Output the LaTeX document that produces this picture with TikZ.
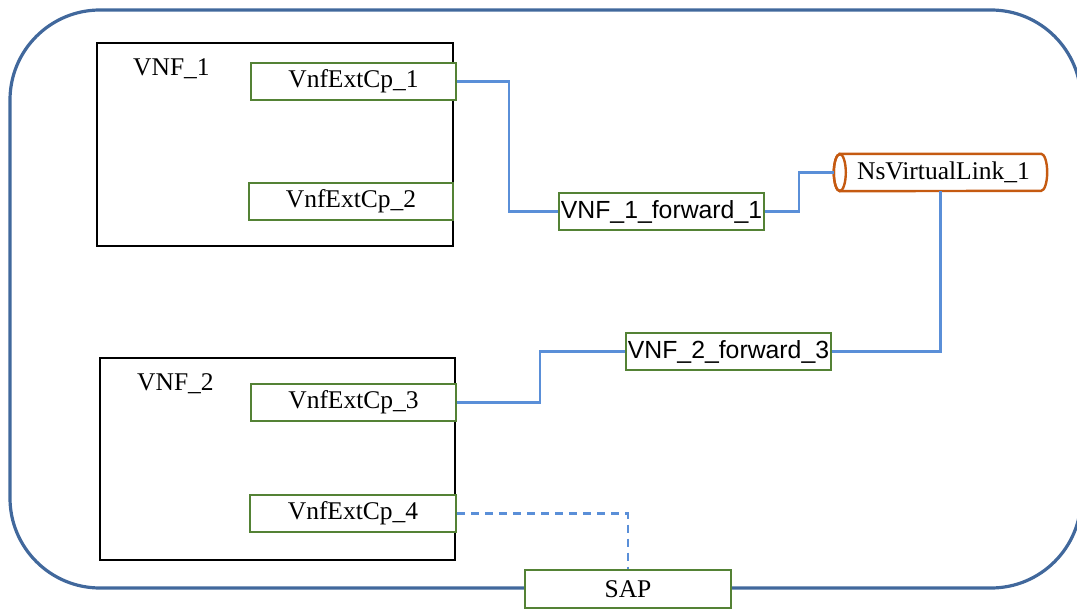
\documentclass[tikz,border=0pt]{standalone}
\usepackage{fontspec}
\setmainfont{Liberation Serif}
\newfontfamily\arialf{Liberation Sans}
\definecolor{outerblue}{HTML}{41689C}
\definecolor{linkblue}{HTML}{5A8FD8}
\definecolor{cpgreen}{HTML}{548235}
\definecolor{vlorange}{HTML}{C55A11}
\begin{document}
\begin{tikzpicture}[x=1pt,y=-1pt,
  every node/.style={font=\fontsize{25.5}{30}\selectfont, inner sep=0pt},
  vnfbox/.style={draw=black, line width=2.4pt, fill=white},
  cpbox/.style={draw=cpgreen, line width=2.4pt, fill=white, minimum width=205pt, minimum height=37pt},
  fwdbox/.style={cpbox, font=\arialf\fontsize{24.8}{30}\selectfont},
  link/.style={draw=linkblue, line width=2.2pt},
  vlink/.style={draw=vlorange, line width=2.4pt, fill=white}]
\useasboundingbox (0,0) rectangle (1077,610);
\clip (0,0) rectangle (1077,610);
% outer frame
\draw[outerblue, line width=3.2pt, rounded corners=90pt] (10,10) rectangle (1081,588);
% VNF boxes
\node[vnfbox, minimum width=356pt, minimum height=203pt] (vnf1) at (275,144.5) {};
\node[vnfbox, minimum width=355pt, minimum height=202pt] (vnf2) at (277.5,459) {};
\node[anchor=base west] (vnf1lbl) at (133,76) {VNF\_1};
\node[anchor=base west] (vnf2lbl) at (137,390) {VNF\_2};
% connection points
\node[cpbox] (c1) at (353.5,81.5) {VnfExtCp\_1};
\node[cpbox, minimum width=204pt] (c2) at (351,201.5) {VnfExtCp\_2};
\node[cpbox] (c3) at (353.5,402.5) {VnfExtCp\_3};
\node[cpbox, minimum width=206pt] (c4) at (353,513.5) {VnfExtCp\_4};
% forwarding nodes
\node[fwdbox] (f1) at (661.5,211.5) {VNF\_1\_forward\_1};
\node[fwdbox] (f3) at (728.5,351.5) {VNF\_2\_forward\_3};
\node[cpbox, minimum width=206pt, minimum height=38pt] (sap) at (628,589) {SAP};
% virtual link (cylinder)
\node[minimum width=213pt, minimum height=37pt] (vl) at (940.5,172.5) {};
\path[vlink] ([xshift=6pt]vl.north west) -- ([xshift=-6pt]vl.north east)
  arc[start angle=-90, end angle=90, x radius=6, y radius=18.5]
  -- ([xshift=6pt]vl.south west)
  arc[start angle=90, end angle=270, x radius=6, y radius=18.5] -- cycle;
\draw[vlorange, line width=2.4pt] ([xshift=6pt]vl.west) ellipse [x radius=6, y radius=18.5];
\node at ([xshift=3pt]vl.center) (vltext) {NsVirtualLink\_1};
% connectors
\draw[link] (c1.east) -- ++(52,0) |- (f1.west);
\draw[link] (f1.east) -- ++(34,0) |- (vl.west);
\draw[link] (vl.south) |- (f3.east);
\draw[link] (f3.west) -- ++(-85,0) |- (c3.east);
\draw[link, dash pattern=on 8pt off 6pt] (c4.east) -| (sap.north);
\end{tikzpicture}
\end{document}
